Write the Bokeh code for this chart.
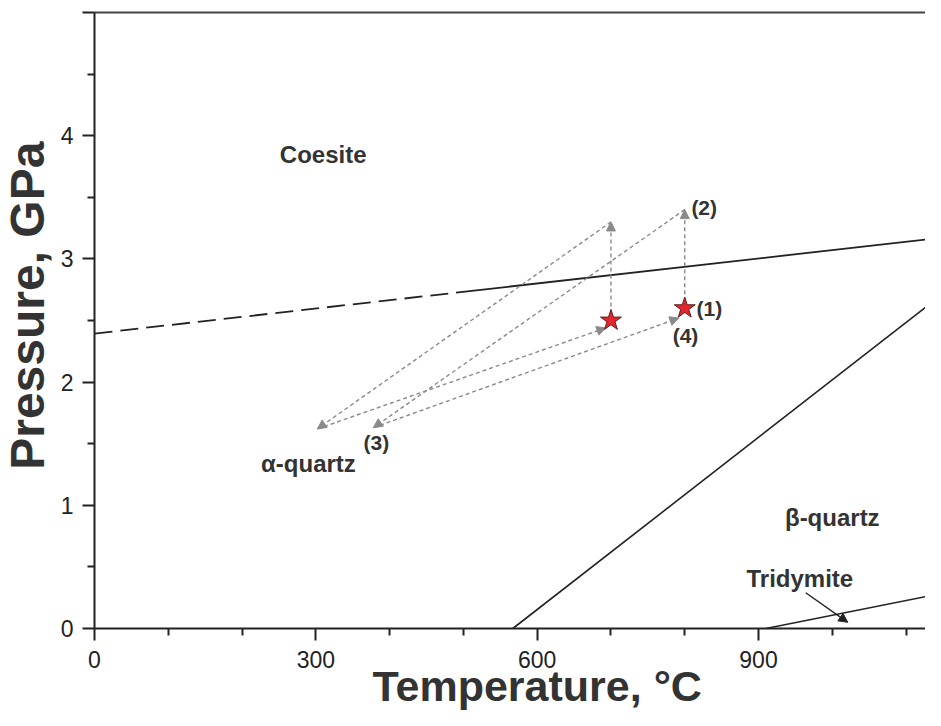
import math
from bokeh.plotting import figure
from bokeh.models import (Range1d, FixedTicker, Label, Arrow, NormalHead,
                          ColumnDataSource, LinearAxis)
from bokeh.embed import file_html
from bokeh.resources import INLINE

# ---- data (temperature in °C, pressure in GPa) ----
coesite_dashed_T = [0, 490]
coesite_dashed_P = [2.394, 2.726]
coesite_solid_T = [490, 1200]
coesite_solid_P = [2.726, 3.207]

ab_quartz_T = [567, 1200]
ab_quartz_P = [0.0, 2.95]

tridymite_T = [910, 1200]
tridymite_P = [0.0, 0.346]

star_T = [700, 800]
star_P = [2.5, 2.6]

path_T0 = [700, 800, 700, 800, 302, 378]
path_P0 = [2.5, 2.6, 3.3, 3.4, 1.62, 1.63]
path_T1 = [700, 800, 302, 378, 693, 792]
path_P1 = [3.3, 3.4, 1.62, 1.63, 2.44, 2.52]

step_labels = ["(1)", "(2)", "(3)", "(4)"]
step_T = [816, 809, 382, 801]
step_P = [2.595, 3.414, 1.51, 2.376]
step_align = ["left", "left", "center", "center"]

region_labels = ["Coesite", "α-quartz", "β-quartz", "Tridymite"]
region_T = [310, 290, 1000, 956]
region_P = [3.85, 1.34, 0.90, 0.405]

tri_arrow_T = [964, 1021]
tri_arrow_P = [0.29, 0.05]

x_major = [0, 300, 600, 900]
x_minor = [100, 200, 400, 500, 700, 800, 1000, 1100]
y_major = [0, 1, 2, 3, 4, 5]
y_minor = [0.5, 1.5, 2.5, 3.5, 4.5]

x_title = "Temperature, °C"
y_title = "Pressure, GPa"

FONT = "Liberation Sans"
DARK = "#333333"
AX = "#222222"

W, H = 925, 710
X0PX, Y0PX = 94, 628          # where T=0 / P=0 sit on the canvas
SX, SY = 0.7378, 123.2        # pixels per unit
x_rng = Range1d(-X0PX / SX, (W - X0PX) / SX)
y_rng = Range1d(-(H - Y0PX) / SY, Y0PX / SY)

p = figure(width=W, height=H, output_backend="svg", toolbar_location=None,
           x_range=x_rng, y_range=y_rng,
           min_border_left=0, min_border_right=0, min_border_top=0,
           min_border_bottom=0)
p.outline_line_color = None
p.grid.visible = False
p.background_fill_color = "white"
p.border_fill_color = "white"

p.xaxis.fixed_location = 0
p.yaxis.fixed_location = 0
p.xaxis.bounds = (0, 1200)
p.yaxis.bounds = (0, 5)

for ax in (p.xaxis[0], p.yaxis[0]):
    ax.axis_line_width = 2
    ax.axis_line_color = AX
    ax.major_tick_line_color = AX
    ax.minor_tick_line_color = AX
    ax.major_tick_line_width = 2
    ax.minor_tick_line_width = 2
    ax.major_tick_in = 0
    ax.major_tick_out = 12
    ax.minor_tick_in = 0
    ax.minor_tick_out = 7
    ax.major_label_text_font = FONT
    ax.major_label_text_font_size = "23px"
    ax.major_label_text_color = AX

p.xaxis.major_label_standoff = 10
p.yaxis.major_label_standoff = 9
p.xaxis.ticker = FixedTicker(ticks=x_major, minor_ticks=x_minor)
p.yaxis.ticker = FixedTicker(ticks=y_major, minor_ticks=y_minor)
p.yaxis.major_label_overrides = {5: ""}

# top frame line
top = LinearAxis(fixed_location=5, bounds=(0, 1200), ticker=FixedTicker(ticks=[]),
                 axis_line_color="#444444", axis_line_width=2,
                 major_tick_line_color=None, minor_tick_line_color=None,
                 major_label_text_font_size="0px")
p.add_layout(top, "above")

# phase boundaries
p.line(coesite_dashed_T, coesite_dashed_P, line_color=AX, line_width=1.8,
       line_dash="18 8")
p.line(coesite_solid_T, coesite_solid_P, line_color=AX, line_width=1.8)
p.line(ab_quartz_T, ab_quartz_P, line_color=AX, line_width=1.6)
p.line(tridymite_T, tridymite_P, line_color=AX, line_width=1.6)

# P-T path arrows
src = ColumnDataSource(dict(x0=path_T0, y0=path_P0, x1=path_T1, y1=path_P1))
p.add_layout(Arrow(x_start="x0", y_start="y0", x_end="x1", y_end="y1", source=src,
                   line_color="#8a8a8a", line_width=1.4, line_dash="4 3",
                   end=NormalHead(size=9, fill_color="#8a8a8a", line_color="#8a8a8a",
                                  line_width=1)))

# tridymite pointer
p.add_layout(Arrow(x_start=tri_arrow_T[0], y_start=tri_arrow_P[0],
                   x_end=tri_arrow_T[1], y_end=tri_arrow_P[1],
                   line_color=AX, line_width=1.4,
                   end=NormalHead(size=9, fill_color=AX, line_color=AX, line_width=1)))

# stars
p.scatter(star_T, star_P, marker="star", size=22, fill_color="#e4262e",
          line_color="#5a2020", line_width=1, level="overlay")

for t, x, y, a in zip(step_labels, step_T, step_P, step_align):
    p.add_layout(Label(x=x, y=y, text=t, text_font=FONT, text_font_style="bold",
                       text_font_size="21px", text_color=DARK, text_align=a,
                       text_baseline="middle"))

for t, x, y in zip(region_labels, region_T, region_P):
    p.add_layout(Label(x=x, y=y, text=t, text_font=FONT, text_font_style="bold",
                       text_font_size="24px", text_color=DARK, text_align="center",
                       text_baseline="middle"))

# axis titles (inside the frame, which covers the whole canvas)
p.add_layout(Label(x=600, y=-0.47, text=x_title, text_font=FONT,
                   text_font_style="bold", text_font_size="43px", text_color=DARK,
                   text_align="center", text_baseline="alphabetic"))
p.add_layout(Label(x=-91, y=2.62, text=y_title, text_font=FONT,
                   text_font_style="bold", text_font_size="48px", text_color=DARK,
                   text_align="center", text_baseline="alphabetic", angle=math.pi / 2))

open("out.html", "w").write(file_html(p, INLINE))
